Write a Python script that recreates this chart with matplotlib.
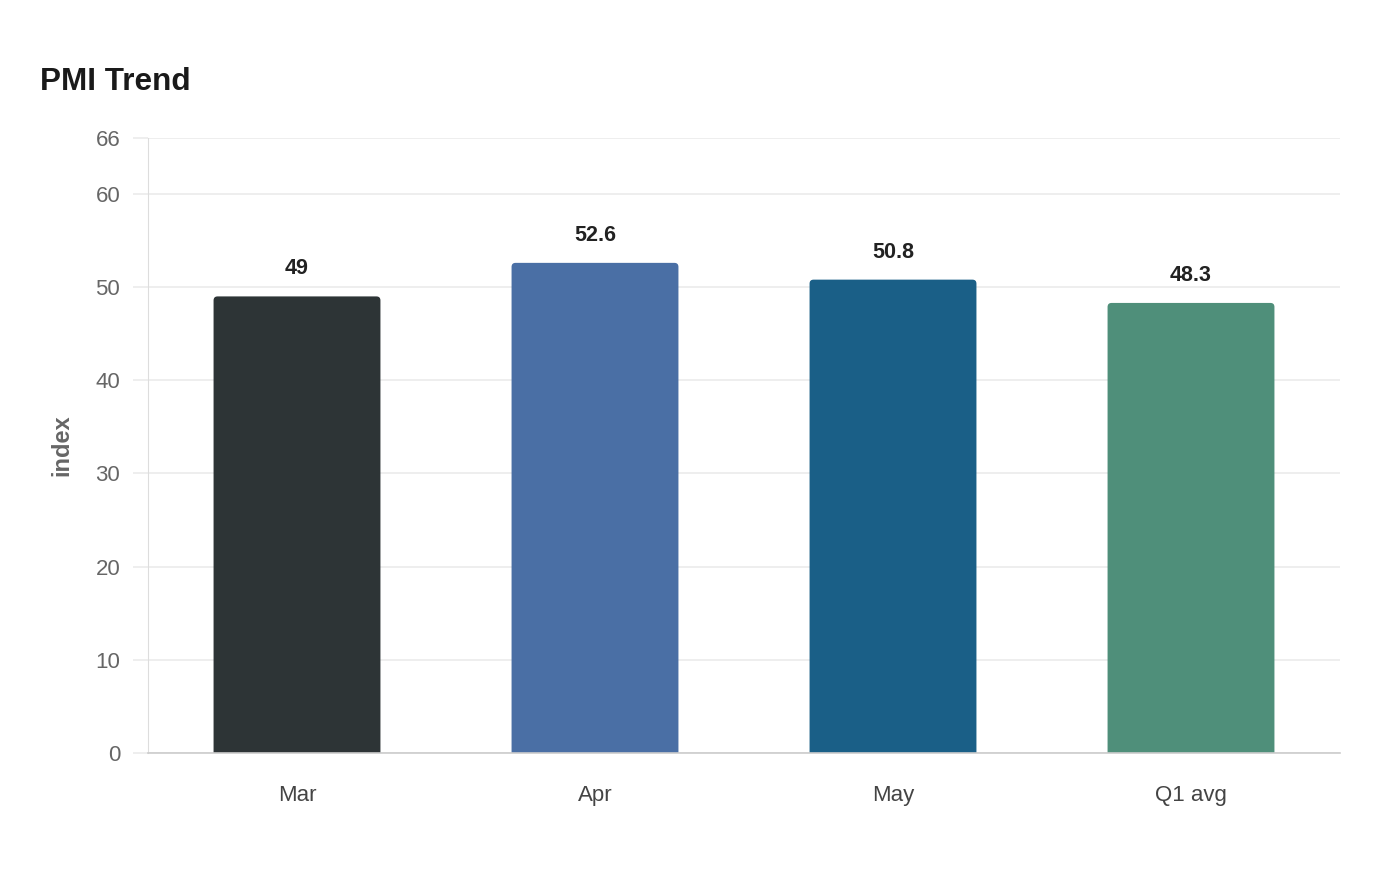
import matplotlib.pyplot as plt
from matplotlib.patches import FancyBboxPatch

categories = ['Mar', 'Apr', 'May', 'Q1 avg']
values = [49, 52.6, 50.8, 48.3]
labels = ['49', '52.6', '50.8', '48.3']
colors = ['#2d3436', '#4a6fa5', '#1a5f87', '#4f8f7a']
yticks = [0, 10, 20, 30, 40, 50, 60, 66]

plt.rcParams['font.family'] = ['Liberation Sans', 'DejaVu Sans']

fig = plt.figure(figsize=(14, 8.8), dpi=100)
ax = fig.add_axes([148 / 1400, 1 - 753 / 880, 1192 / 1400, 615 / 880])

x = list(range(len(categories)))
bars = ax.bar(x, values, width=0.56, color=colors)
ax.set_xlim(-0.5, len(categories) - 0.5)
ax.set_ylim(0, 66)

# rounded top corners: swap each bar for a fancy box, bottom pushed below the axis
rx = 4 / 298
ry = 4 / (615 / 66)
for b in bars:
    b.set_visible(False)
    patch = FancyBboxPatch((b.get_x(), -ry * 2), b.get_width(), b.get_height() + ry * 2,
                           boxstyle=f"round,pad=0,rounding_size={rx}",
                           mutation_aspect=ry / rx, facecolor=b.get_facecolor(),
                           edgecolor='none', zorder=2)
    ax.add_patch(patch)

for xi, v, lab in zip(x, values, labels):
    ax.annotate(lab, (xi, v), xytext=(0, 17), textcoords='offset pixels',
                ha='center', va='bottom', fontsize=15.5, fontweight='bold', color='#222222')

ax.set_yticks(yticks)
ax.set_xticks(x)
ax.set_xticklabels(categories)
ax.grid(axis='y', color='#ebebeb', linewidth=1.2, zorder=0)
ax.set_axisbelow(True)
ax.tick_params(axis='y', length=11, color='#ebebeb', width=1.2, pad=9,
               labelsize=16, labelcolor='#666666')
ax.tick_params(axis='x', length=0, pad=23, labelsize=16, labelcolor='#444444')

for s in ['top', 'right']:
    ax.spines[s].set_visible(False)
ax.spines['left'].set_color('#dddddd')
ax.spines['left'].set_linewidth(0.8)
ax.spines['bottom'].set_color('#cccccc')
ax.spines['bottom'].set_linewidth(1.2)
ax.spines['bottom'].set_zorder(3)

ax.set_ylabel('index', fontsize=17, fontweight='bold', color='#666666', labelpad=16)

fig.text(40 / 1400, 1 - 82 / 880, 'PMI Trend', fontsize=22.7, fontweight='bold',
         color='#1a1a1a', va='center', ha='left')

plt.savefig('out.png', dpi=100)
